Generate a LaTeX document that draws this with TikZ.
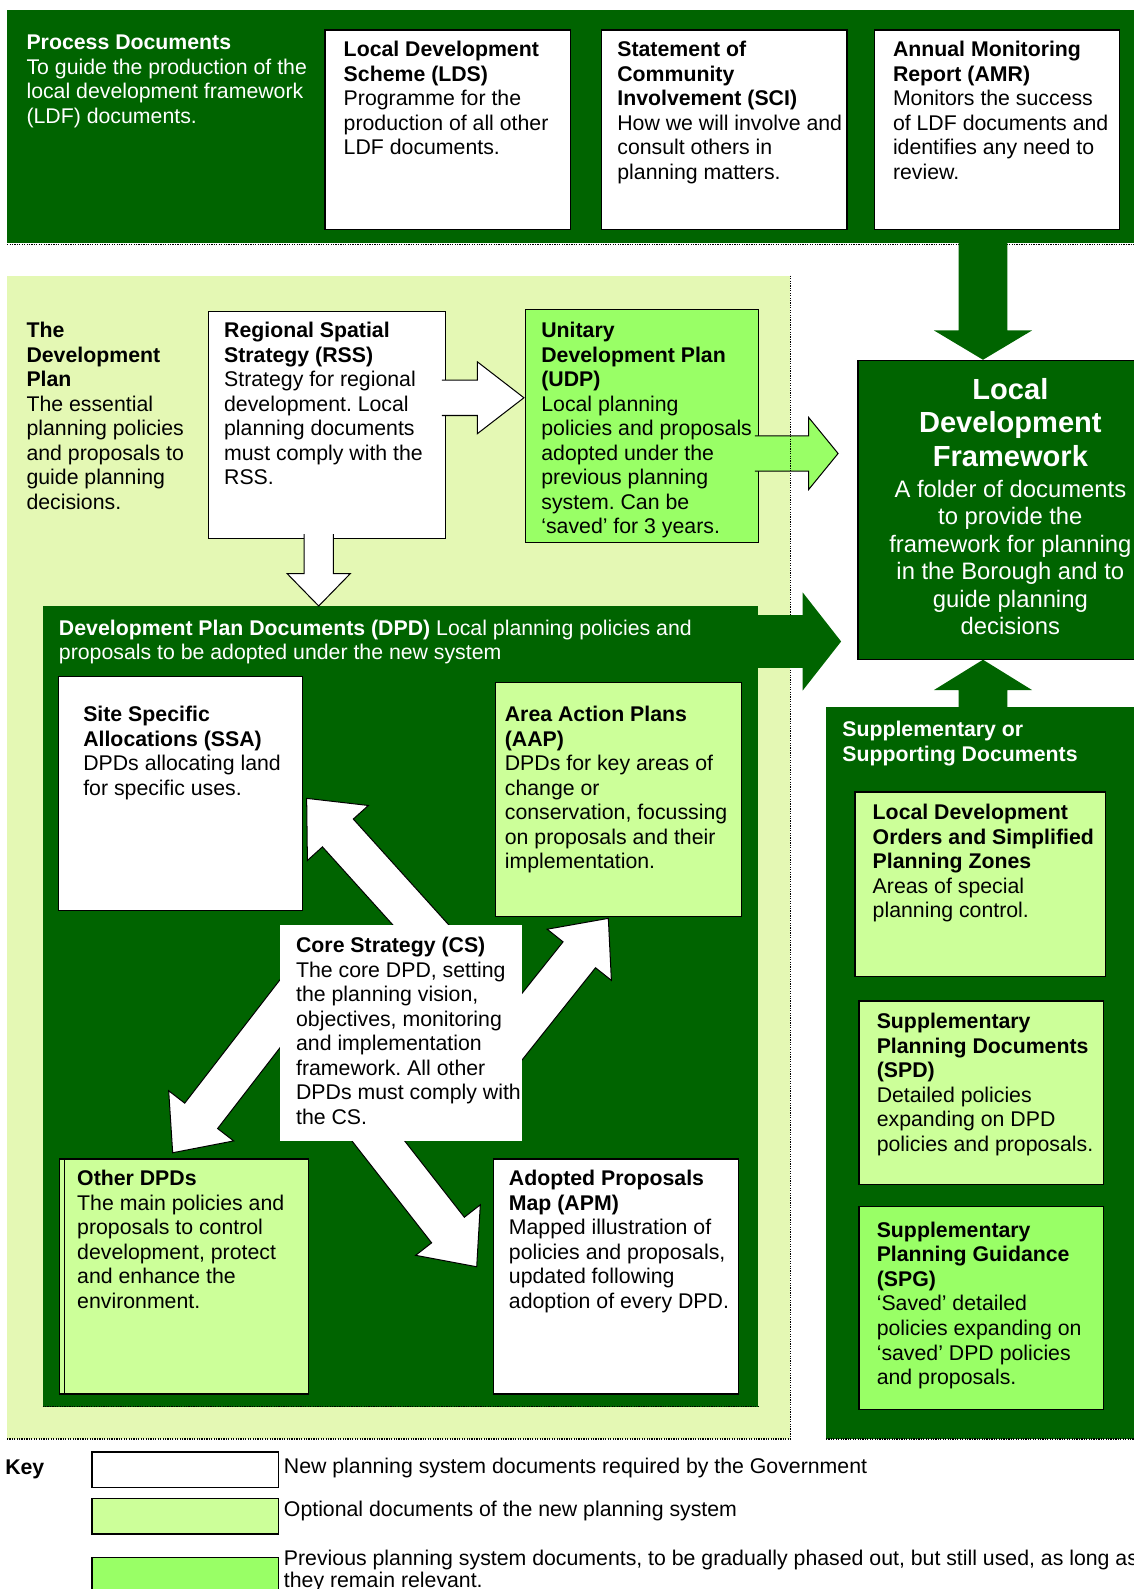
\documentclass[tikz,border=0pt]{standalone}
\usepackage{fontspec}
\setmainfont{Liberation Sans}
\usetikzlibrary{calc}
\frenchspacing

\definecolor{dkgreen}{RGB}{0,100,0}
\definecolor{palegreen}{RGB}{228,248,180}
\definecolor{optgreen}{RGB}{204,255,153}
\definecolor{oldgreen}{RGB}{153,255,102}

\newcommand{\blockarrow}[6]{%
  \coordinate (ba-base) at ($(#3)!#6!(#2)$);
  \filldraw[#1] ($(#2)!#4!90:(#3)$) -- ($(ba-base)!#4!90:(#3)$) -- ($(ba-base)!#5!90:(#3)$) -- (#3)
    -- ($(ba-base)!#5!-90:(#3)$) -- ($(ba-base)!#4!-90:(#3)$) -- ($(#2)!#4!-90:(#3)$);}

\begin{document}
\begin{tikzpicture}[x=1pt, y=-1pt,
  docbox/.style={draw=black, line width=1.3pt, anchor=north west, inner sep=0pt},
  txt/.style={anchor=north west, inner sep=0pt, align=left, font=\fontsize{21}{24.2}\selectfont, execute at begin node=\strut},
  dots/.style={line width=1.2pt, dash pattern=on 1.2pt off 1.2pt},
  whitearrow/.style={fill=white, draw=black, line width=1pt},
  greenarrow/.style={fill=dkgreen, draw=none}]
\useasboundingbox (0,0) rectangle (1119,1568);

\fill[palegreen] (7,272) rectangle (780,1420);
\fill[dkgreen] (7,10) rectangle (1119,240);
\fill[dkgreen] (815,698) rectangle (1119,1420);
\fill[dkgreen] (42,598) rectangle (748,1388);
\draw[dots] (7,241.5) -- (1119,241.5);
\draw[dots] (42,1388) -- (748,1388);
\draw[dots] (815,1420) -- (1119,1420);

% documents
\node[docbox, fill=white, minimum width=242, minimum height=197] (lds) at (320,29) {};
\node[docbox, fill=white, minimum width=242, minimum height=197] (sci) at (593,29) {};
\node[docbox, fill=white, minimum width=242, minimum height=197] (amr) at (862,29) {};
\node[docbox, fill=white, minimum width=234, minimum height=224] (rss) at (205,307) {};
\node[docbox, fill=oldgreen, minimum width=230, minimum height=230] (udp) at (518,305) {};
\node[docbox, fill=dkgreen, minimum width=290, minimum height=295] (ldf) at (846,355) {};
\node[docbox, fill=white, minimum width=241, minimum height=231] (ssa) at (57,667) {};
\node[docbox, fill=optgreen, minimum width=243, minimum height=231] (aap) at (488,673) {};
\node[docbox, fill=optgreen, minimum width=242, minimum height=232] (otherback) at (58,1143) {};
\node[docbox, fill=optgreen, minimum width=241, minimum height=232] (other) at (63,1143) {};
\node[docbox, fill=white, minimum width=242, minimum height=232] (apm) at (486,1143) {};
\node[docbox, fill=optgreen, minimum width=247, minimum height=182] (ldo) at (843,781) {};
\node[docbox, fill=optgreen, minimum width=241, minimum height=181] (spd) at (847,987) {};
\node[docbox, fill=oldgreen, minimum width=241, minimum height=200] (spg) at (847,1190) {};

\coordinate (band-out) at (970,232);
\coordinate (ldf-top) at (970,355);
\coordinate (supp-out) at (970,706);
\coordinate (ldf-bottom) at (970,651);
\coordinate (rss-right) at (436,392.5);
\coordinate (udp-left) at (517,392.5);
\coordinate (rss-bottom) at (314.5,527);
\coordinate (dpd-top) at (314.5,598);
\coordinate (udp-right) at (745,447.5);
\coordinate (ldf-udp) at (827,447.5);
\coordinate (dpd-right) at (740,633);
\coordinate (ldf-dpd) at (830,633);
\blockarrow{greenarrow}{band-out}{ldf-top}{24pt}{48.5pt}{29pt}
\blockarrow{greenarrow}{supp-out}{ldf-bottom}{24pt}{48.5pt}{30pt}
\blockarrow{whitearrow}{rss-right}{udp-left}{17.5pt}{35.5pt}{46pt}
\blockarrow{whitearrow}{rss-bottom}{dpd-top}{14.5pt}{31.2pt}{32pt}
\blockarrow{fill=oldgreen, draw=black, line width=1pt}{udp-right}{ldf-udp}{17.5pt}{35.5pt}{29pt}
\draw[dots] (780,272) -- (780,1420) -- (7,1420);
\blockarrow{greenarrow}{dpd-right}{ldf-dpd}{26pt}{48.5pt}{38pt}

\coordinate (cs-ssa) at (456.6,958.5);
\coordinate (ssa-tip) at (302.6,787.8);
\coordinate (cs-aap) at (457,1086);
\coordinate (aap-tip) at (600.3,906.2);
\coordinate (cs-other) at (310.9,955.5);
\coordinate (other-tip) at (170.4,1137.5);
\coordinate (cs-apm) at (328.7,1068.8);
\coordinate (apm-tip) at (470.4,1250);
\blockarrow{whitearrow}{cs-ssa}{ssa-tip}{20.5pt}{40.5pt}{46pt}
\blockarrow{whitearrow}{cs-aap}{aap-tip}{20.5pt}{40.5pt}{46pt}
\blockarrow{whitearrow}{cs-other}{other-tip}{20.5pt}{40.5pt}{46pt}
\blockarrow{whitearrow}{cs-apm}{apm-tip}{20.5pt}{40.5pt}{46pt}
\node[fill=white, anchor=north west, inner sep=0pt, minimum width=239, minimum height=213] (cs) at (276,913) {};

\node[txt, text=white] (proctext) at (26,34.3) {\textbf{Process Documents}\\To guide the production of the\\local development framework\\(LDF) documents.};
\node[txt] (ldstext) at (339,40.6) {\textbf{Local Development}\\\textbf{Scheme (LDS)}\\Programme for the\\production of all other\\LDF documents.};
\node[txt] (scitext) at (609,40.6) {\textbf{Statement of}\\\textbf{Community}\\\textbf{Involvement (SCI)}\\How we will involve and\\consult others in\\planning matters.};
\node[txt] (amrtext) at (881,40.6) {\textbf{Annual Monitoring}\\\textbf{Report (AMR)}\\Monitors the success\\of LDF documents and\\identifies any need to\\review.};
\node[txt] (devtext) at (26,317.6) {\textbf{The}\\\textbf{Development}\\\textbf{Plan}\\The essential\\planning policies\\and proposals to\\guide planning\\decisions.};
\node[txt] (rsstext) at (221,317.6) {\textbf{Regional Spatial}\\\textbf{Strategy (RSS)}\\Strategy for regional\\development. Local\\planning documents\\must comply with the\\RSS.};
\node[txt] (udptext) at (534,317.6) {\textbf{Unitary}\\\textbf{Development Plan}\\\textbf{(UDP)}\\Local planning\\policies and proposals\\adopted under the\\previous planning\\system. Can be\\‘saved’ for 3 years.};
\node[anchor=north, inner sep=0pt, align=center, text=white, font=\bfseries\fontsize{28.7}{33}\selectfont, execute at begin node=\strut] (ldftitle) at (997,373.2) {Local\\Development\\Framework};
\node[anchor=north, inner sep=0pt, align=center, text=white, font=\fontsize{23.5}{27.1}\selectfont, execute at begin node=\strut] (ldftext) at (997,473.4) {A folder of documents\\to provide the\\framework for planning\\in the Borough and to\\guide planning\\decisions};
\node[txt, text=white] (dpdtext) at (58,611.6) {\textbf{Development Plan Documents (DPD)} Local planning policies and\\proposals to be adopted under the new system};
\node[txt] (ssatext) at (82,696.6) {\textbf{Site Specific}\\\textbf{Allocations (SSA)}\\DPDs allocating land\\for specific uses.};
\node[txt] (aaptext) at (498,696.6) {\textbf{Area Action Plans}\\\textbf{(AAP)}\\DPDs for key areas of\\change or\\conservation, focussing\\on proposals and their\\implementation.};
\node[txt] (cstext) at (292,924.6) {\textbf{Core Strategy (CS)}\\The core DPD, setting\\the planning vision,\\objectives, monitoring\\and implementation\\framework. All other\\DPDs must comply with\\the CS.};
\node[txt] (othertext) at (76,1154.6) {\textbf{Other DPDs}\\The main policies and\\proposals to control\\development, protect\\and enhance the\\environment.};
\node[txt] (apmtext) at (502,1154.6) {\textbf{Adopted Proposals}\\\textbf{Map (APM)}\\Mapped illustration of\\policies and proposals,\\updated following\\adoption of every DPD.};
\node[txt, text=white] (supptext) at (831,711.6) {\textbf{Supplementary or}\\\textbf{Supporting Documents}};
\node[txt] (ldotext) at (861,793.6) {\textbf{Local Development}\\\textbf{Orders and Simplified}\\\textbf{Planning Zones}\\Areas of special\\planning control.};
\node[txt] (spdtext) at (865,999.6) {\textbf{Supplementary}\\\textbf{Planning Documents}\\\textbf{(SPD)}\\Detailed policies\\expanding on DPD\\policies and proposals.};
\node[txt] (spgtext) at (865,1205.6) {\textbf{Supplementary}\\\textbf{Planning Guidance}\\\textbf{(SPG)}\\‘Saved’ detailed\\policies expanding on\\‘saved’ DPD policies\\and proposals.};

% key
\node[txt] (key) at (5,1437.6) {\textbf{Key}};
\node[docbox, fill=white, minimum width=184, minimum height=35] (keynew) at (90,1432) {};
\node[docbox, fill=optgreen, minimum width=184, minimum height=35] (keyopt) at (90,1478) {};
\node[docbox, fill=oldgreen, minimum width=184, minimum height=60] (keyold) at (90,1536) {};
\node[txt] (keynewtext) at (280,1436.6) {New planning system documents required by the Government};
\node[txt] (keyopttext) at (280,1479.6) {Optional documents of the new planning system};
\node[txt, font=\fontsize{21}{22}\selectfont] (keyoldtext) at (280,1529.1) {Previous planning system documents, to be gradually phased out, but still used, as long as\\they remain relevant.};
\end{tikzpicture}
\end{document}
